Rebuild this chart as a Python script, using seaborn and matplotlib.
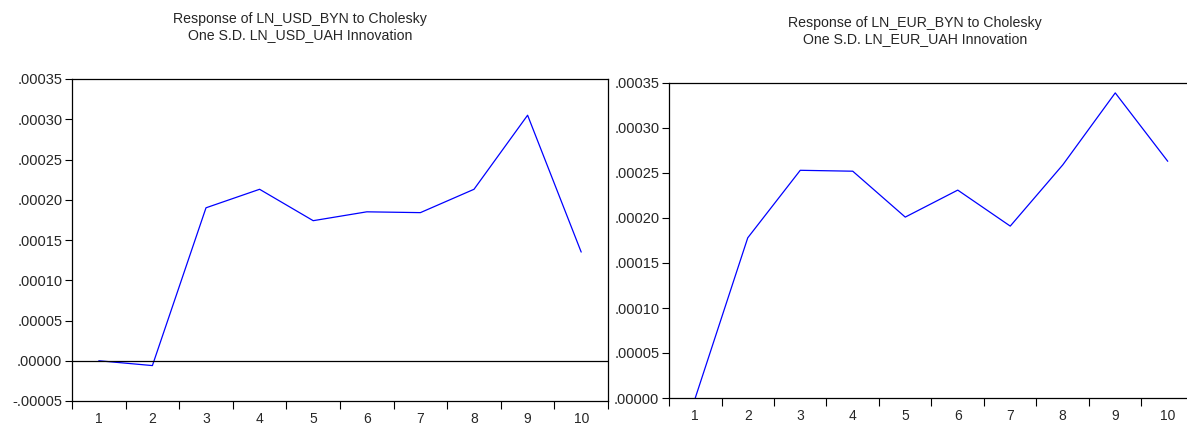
import numpy as np
import pandas as pd
import matplotlib
matplotlib.use('Agg')
import matplotlib.pyplot as plt
import seaborn as sns
from matplotlib.ticker import FuncFormatter, FixedLocator

# periods and impulse responses
periods = [1, 2, 3, 4, 5, 6, 7, 8, 9, 10]
usd_resp = [0.0, -0.000006, 0.000190, 0.000213, 0.000174, 0.000185, 0.000184, 0.000213, 0.000305, 0.000135]
eur_resp = [0.0, 0.000178, 0.000253, 0.000252, 0.000201, 0.000231, 0.000191, 0.000259, 0.000339, 0.000263]

usd_title = "Response of LN_USD_BYN to Cholesky\nOne S.D. LN_USD_UAH Innovation"
eur_title = "Response of LN_EUR_BYN to Cholesky\nOne S.D. LN_EUR_UAH Innovation"
usd_ticks = [-0.00005, 0.0, 0.00005, 0.00010, 0.00015, 0.00020, 0.00025, 0.00030, 0.00035]
eur_ticks = [0.0, 0.00005, 0.00010, 0.00015, 0.00020, 0.00025, 0.00030, 0.00035]

sns.set_style('white')
plt.rcParams['font.family'] = ['Liberation Sans', 'DejaVu Sans']

df_usd = pd.DataFrame({'period': periods, 'resp': usd_resp})
df_eur = pd.DataFrame({'period': periods, 'resp': eur_resp})


def fmt(v, pos):
    # eviews style: no leading zero
    s = f"{v:.5f}"
    if s.startswith("-"):
        return s.replace("-0.", "-.")
    return s.replace("0.", ".", 1)


fig = plt.figure(figsize=(11.87, 4.24), dpi=100)
ax1 = fig.add_axes([72 / 1187, 23 / 424, 536 / 1187, 322 / 424])
ax2 = fig.add_axes([669 / 1187, 26 / 424, 525 / 1187, 315 / 424])

for ax, df, ticks, ylim in [(ax1, df_usd, usd_ticks, (-0.00005, 0.00035)),
                            (ax2, df_eur, eur_ticks, (0.0, 0.00035))]:
    sns.lineplot(data=df, x='period', y='resp', ax=ax, color='#0000ff', linewidth=0.9)
    ax.set_xlim(0.5, 10.5)
    ax.set_ylim(*ylim)
    ax.set_xlabel('')
    ax.set_ylabel('')
    ax.set_yticks(ticks)
    ax.yaxis.set_major_formatter(FuncFormatter(fmt))
    # category boundaries as ticks, labels in the middle
    ax.xaxis.set_major_locator(FixedLocator(np.arange(0.5, 11, 1)))
    ax.xaxis.set_minor_locator(FixedLocator(periods))
    ax.set_xticklabels([])
    ax.set_xticklabels([str(p) for p in periods], minor=True)
    ax.tick_params(axis='x', which='major', direction='out', length=6, width=0.8, color='black', bottom=True)
    ax.tick_params(axis='x', which='minor', length=0, labelsize=10, pad=8)
    ax.tick_params(axis='y', direction='out', length=5, width=0.8, color='black', left=True, labelsize=10.5, pad=2)
    for sp in ax.spines.values():
        sp.set_color('black')
        sp.set_linewidth(0.9)

ax1.axhline(0, color='black', linewidth=0.9)

fig.text(300 / 1187, 1 - 27 / 424, usd_title, ha='center', va='center', fontsize=10.2, linespacing=1.2)
fig.text(915 / 1187, 1 - 31 / 424, eur_title, ha='center', va='center', fontsize=10.2, linespacing=1.2)

fig.savefig('out.png', dpi=100)
